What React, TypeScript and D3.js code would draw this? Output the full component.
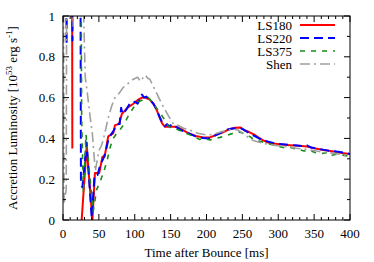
import * as d3 from "d3";

// time after bounce [ms], accretion luminosity [1e53 erg/s]; null = gap
const ls180: [number, number | null][] = [
  [0, 1.8], [12.5, 1.8], [13, 0.35], [14, null],
  [26, 0], [33, 0.36], [41, 0], [44.5, 0.23], [50.5, 0.23], [55, 0.31], [58, 0.31],
  [63, 0.41], [70, 0.425], [72.5, 0.465], [78, 0.47], [82, 0.52], [90, 0.55], [98, 0.57],
  [105, 0.59], [110, 0.6], [114, 0.6], [121, 0.59], [126, 0.57], [130.5, 0.54], [135, 0.5],
  [138, 0.475], [142, 0.457], [150, 0.457], [158, 0.457], [165, 0.445], [175, 0.425],
  [185, 0.412], [195, 0.405], [205, 0.405], [214, 0.418], [223, 0.43], [232, 0.445],
  [240, 0.452], [247, 0.454], [253, 0.44], [260, 0.43], [266, 0.42], [272, 0.405],
  [279, 0.39], [286, 0.38], [293, 0.375], [305, 0.37], [316, 0.367], [328, 0.364],
  [340, 0.36], [352, 0.35], [363, 0.343], [375, 0.337], [386, 0.33], [400, 0.323],
];

const ls220: [number, number | null][] = [
  [0, 1.8], [3.5, 1.8], [5, 0.86], [6.5, 1.8], [12.5, 1.8], [13.2, 0.88], [13.8, 1.8],
  [24, 1.8], [25, 0.18], [27, 0.16], [33, 0.38], [40, 0.01], [44, 0.22], [48, 0.22],
  [52, 0.27], [56, 0.3], [59, 0.33], [63, 0.39], [67, 0.42], [71, 0.44], [75, 0.47],
  [79, 0.47], [81, 0.55], [83, 0.52], [88, 0.54], [93, 0.57], [97, 0.57], [100, 0.58],
  [104, 0.57], [108, 0.6], [110, 0.615], [113, 0.6], [116, 0.605], [121, 0.59],
  [126, 0.57], [130, 0.545], [134, 0.51], [138, 0.48], [142, 0.46], [145, 0.47],
  [148, 0.46], [153, 0.47], [158, 0.455], [165, 0.44], [175, 0.425], [185, 0.41],
  [195, 0.402], [203, 0.4], [210, 0.41], [218, 0.425], [226, 0.44], [234, 0.447],
  [240, 0.45], [247, 0.452], [253, 0.44], [260, 0.425], [268, 0.41], [276, 0.395],
  [285, 0.385], [293, 0.378], [302, 0.372], [310, 0.37], [318, 0.368], [326, 0.365],
  [334, 0.362], [340, 0.366], [346, 0.355], [354, 0.35], [362, 0.345], [370, 0.34],
  [378, 0.337], [386, 0.333], [394, 0.328], [400, 0.323],
];

const ls375: [number, number | null][] = [
  [0, 1.8], [24.5, 1.8], [26, 0.5], [28.5, 0.13], [32, 0.42], [42, 0.04], [47, 0.15],
  [52, 0.19], [58, 0.25], [62, 0.3], [66, 0.36], [70, 0.4], [74, 0.42], [79, 0.44],
  [85, 0.47], [91, 0.51], [98, 0.55], [105, 0.58], [112, 0.59], [119, 0.6], [124, 0.58],
  [128, 0.56], [134, 0.53], [140, 0.5], [145, 0.47], [150, 0.45], [157, 0.447],
  [165, 0.435], [175, 0.42], [183, 0.41], [190, 0.395], [197, 0.4], [205, 0.392],
  [212, 0.4], [219, 0.405], [228, 0.415], [237, 0.425], [245, 0.432], [252, 0.425],
  [260, 0.41], [268, 0.39], [276, 0.385], [284, 0.375], [292, 0.37], [300, 0.36],
  [307, 0.355], [314, 0.36], [322, 0.35], [330, 0.345], [336, 0.338], [344, 0.342],
  [352, 0.33], [360, 0.325], [366, 0.33], [372, 0.314], [380, 0.322], [390, 0.318],
  [400, 0.312],
];

const shen: [number, number | null][] = [
  [0.3, 1.8], [1.5, 0.08], [4.5, 0.15], [5.5, 1.8], [13.5, 1.8], [14.2, 0.95], [15, 1.8],
  [23, 1.8], [31, 0.7], [34, 0.62], [38, 0.5], [41, 0.42], [45, 0.24], [50, 0.34],
  [53, 0.36], [56, 0.39], [63, 0.5], [68, 0.56], [72.5, 0.6], [78, 0.62], [84, 0.65],
  [91, 0.67], [98, 0.69], [104, 0.7], [108, 0.68], [112, 0.7], [115, 0.71], [118, 0.695],
  [121, 0.69], [128, 0.64], [137.5, 0.57], [147, 0.51], [154, 0.47], [160, 0.465],
  [168, 0.45], [177, 0.44], [188, 0.425], [200, 0.417], [210, 0.42], [219, 0.43],
  [228, 0.44], [237, 0.445], [245, 0.44], [250, 0.425], [258, 0.405], [265, 0.39],
  [280, 0.375], [293, 0.367], [310, 0.36], [325, 0.352], [340, 0.346], [355, 0.337],
  [370, 0.33], [386, 0.323], [400, 0.307],
];

const seriesNames = ["LS180", "LS220", "LS375", "Shen"];
const xTicks = [0, 50, 100, 150, 200, 250, 300, 350, 400];
const yTicks = [0, 0.2, 0.4, 0.6, 0.8, 1];

const W = 374;
const H = 262;
const m = { left: 63, right: 24, top: 16, bottom: 42 };
const font = "Liberation Serif, Times New Roman, serif";

const styles = [
  { color: "#ff0000", width: 2, dash: "" },
  { color: "#0000ff", width: 2, dash: "9,5" },
  { color: "#1a8c1a", width: 1.6, dash: "5,6" },
  { color: "#a0a0a0", width: 1.6, dash: "10,4,2,4" },
];

export default function App() {
  const x = d3.scaleLinear().domain([0, 400]).range([m.left, W - m.right]);
  const y = d3.scaleLinear().domain([0, 1]).range([H - m.bottom, m.top]);
  const line = d3
    .line<[number, number | null]>()
    .defined((d) => d[1] !== null)
    .x((d) => x(d[0]))
    .y((d) => y(d[1] as number));

  const data = [ls180, ls220, ls375, shen];
  const x0 = x(0), x1 = x(400), y0 = y(0), y1 = y(1);
  const xMinor = d3.range(0, 401, 10);
  const yMinor = d3.range(0, 1.001, 0.1);
  const txt = { fontFamily: font, fontSize: "13px" };

  return (
    <svg width={W} height={H} style={{ position: "absolute", left: 0, top: 0 }}>
      <defs>
        <clipPath id="plot">
          <rect x={x0} y={y1} width={x1 - x0} height={y0 - y1} />
        </clipPath>
      </defs>
      <rect width={W} height={H} fill="#fff" />
      <g clipPath="url(#plot)">
        {data.map((d, i) => (
          <path
            key={i}
            d={line(d) ?? ""}
            fill="none"
            stroke={styles[i].color}
            strokeWidth={styles[i].width}
            strokeDasharray={styles[i].dash}
            strokeLinejoin="round"
          />
        ))}
      </g>
      <g stroke="#000" strokeWidth={1}>
        {xMinor.map((v) => {
          const len = v % 50 === 0 ? 6 : 3;
          return (
            <g key={"x" + v}>
              <line x1={x(v)} x2={x(v)} y1={y0} y2={y0 - len} />
              <line x1={x(v)} x2={x(v)} y1={y1} y2={y1 + len} />
            </g>
          );
        })}
        {yMinor.map((v, i) => {
          const len = i % 2 === 0 ? 6 : 3;
          return (
            <g key={"y" + i}>
              <line x1={x0} x2={x0 + len} y1={y(v)} y2={y(v)} />
              <line x1={x1} x2={x1 - len} y1={y(v)} y2={y(v)} />
            </g>
          );
        })}
        <rect x={x0} y={y1} width={x1 - x0} height={y0 - y1} fill="none" />
      </g>
      <g style={txt} fill="#000">
        {xTicks.map((v) => (
          <text key={v} x={x(v)} y={y0 + 18} textAnchor="middle" style={txt}>{v}</text>
        ))}
        {yTicks.map((v) => (
          <text key={v} x={x0 - 8} y={y(v) + 4.5} textAnchor="end" style={txt}>{v}</text>
        ))}
        <text x={(x0 + x1) / 2} y={257} textAnchor="middle" style={txt}>Time after Bounce [ms]</text>
        <text transform={`translate(17,${(y0 + y1) / 2}) rotate(-90)`} textAnchor="middle" style={txt}>
          Accretion Luminosity [10<tspan fontSize={9} dy={-5}>53</tspan>
          <tspan dy={5}> erg s</tspan>
          <tspan fontSize={9} dy={-5}>-1</tspan>
          <tspan dy={5}>]</tspan>
        </text>
        {seriesNames.map((n, i) => (
          <g key={n}>
            <text x={292} y={29.5 + i * 13} textAnchor="end" style={txt}>{n}</text>
            <line
              x1={300}
              x2={335}
              y1={25 + i * 13}
              y2={25 + i * 13}
              stroke={styles[i].color}
              strokeWidth={styles[i].width}
              strokeDasharray={styles[i].dash}
            />
          </g>
        ))}
      </g>
    </svg>
  );
}
